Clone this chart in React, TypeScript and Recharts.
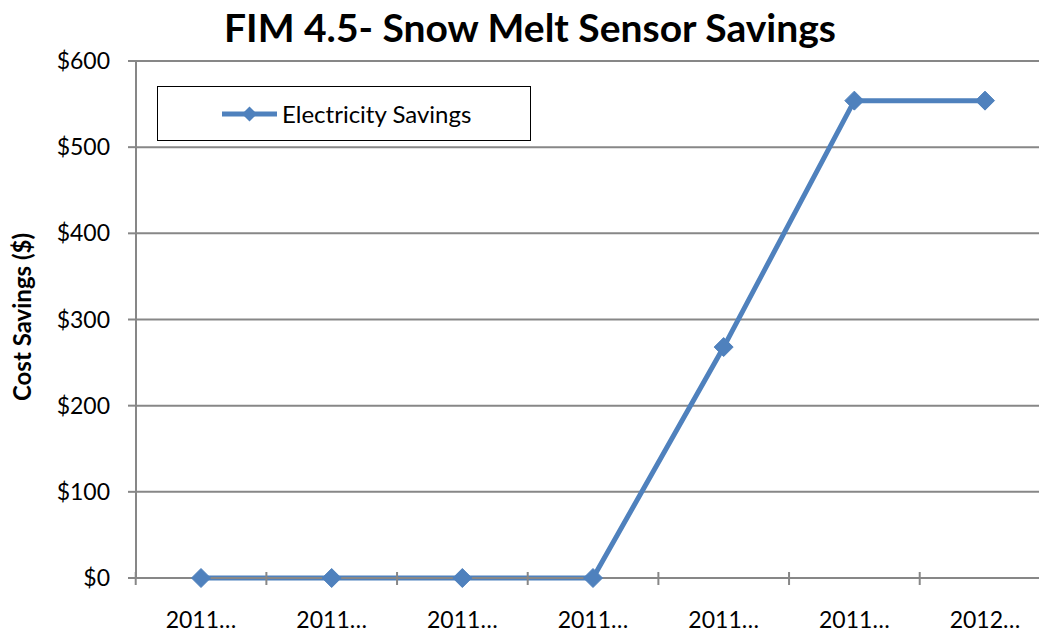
import React from 'react';
import { LineChart, Line, XAxis, YAxis, CartesianGrid } from 'recharts';

const categories = ['2011…', '2011…', '2011…', '2011…', '2011…', '2011…', '2012…'];
const electricitySavings = [0, 0, 0, 0, 268, 554, 554];
const yTicks = [0, 100, 200, 300, 400, 500, 600];
const seriesName = 'Electricity Savings';
const chartTitle = 'FIM 4.5- Snow Melt Sensor Savings';
const yAxisTitle = 'Cost Savings ($)';

const data = categories.map((c, i) => ({ idx: i, label: c, value: electricitySavings[i] }));

const FONT = 'Lato, "Open Sans", sans-serif';
const BLUE = '#4F81BD';
const GRAY = '#878787';

const Diamond = (props: any) => {
  const { cx, cy } = props;
  if (cx == null || cy == null) return null;
  const r = 9.5;
  return (
    <path
      d={`M${cx},${cy - r} L${cx + r},${cy} L${cx},${cy + r} L${cx - r},${cy} Z`}
      fill={BLUE}
      stroke={BLUE}
    />
  );
};

const CatTick = (props: any) => {
  const { x, y, width, visibleTicksCount, index, payload } = props;
  const half = width / visibleTicksCount / 2;
  const axisY = y - 34;
  return (
    <g>
      <line x1={x - half} x2={x - half} y1={axisY - 6} y2={axisY + 7} stroke={GRAY} strokeWidth={2} />
      {index === visibleTicksCount - 1 && (
        <line x1={x + half} x2={x + half} y1={axisY - 6} y2={axisY + 7} stroke={GRAY} strokeWidth={2} />
      )}
      <text x={x} y={y} dy="0.71em" textAnchor="middle" fill="#000" fontSize={23} fontFamily={FONT}>
        {payload.value}
      </text>
    </g>
  );
};

const LegendBox = () => (
  <div
    style={{
      position: 'absolute',
      left: 157,
      top: 86,
      width: 374,
      height: 55,
      border: '1.5px solid #000',
      background: '#fff',
      display: 'flex',
      alignItems: 'center',
      fontFamily: FONT,
      fontSize: 24,
      color: '#000',
      boxSizing: 'border-box',
    }}
  >
    <svg width={124} height={30} style={{ display: 'block' }}>
      <line x1={64} x2={119} y1={15} y2={15} stroke={BLUE} strokeWidth={5} />
      <path d="M91.5,7.5 L99,15 L91.5,22.5 L84,15 Z" fill={BLUE} />
    </svg>
    <span>{seriesName}</span>
  </div>
);

export default function App() {
  return (
    <div
      style={{
        position: 'absolute',
        left: 0,
        top: 0,
        width: 1039,
        height: 632,
        overflow: 'hidden',
        background: '#fff',
      }}
    >
      <div style={{ position: 'absolute', left: 0, top: 0 }}>
        <LineChart width={1060} height={632} data={data} margin={{ top: 61, right: 10, left: 0, bottom: 0 }}>
          <CartesianGrid vertical={false} stroke={GRAY} strokeWidth={2} />
          <XAxis
            dataKey="label"
            height={54}
            padding={{ left: 65, right: 65 }}
            axisLine={{ stroke: GRAY, strokeWidth: 2 }}
            tickLine={false}
            tickSize={0}
            tickMargin={34}
            interval={0}
            tick={<CatTick />}
          />
          <YAxis
            width={136}
            domain={[0, 600]}
            ticks={yTicks}
            interval={0}
            tickFormatter={(v: number) => `$${v}`}
            axisLine={{ stroke: GRAY, strokeWidth: 2 }}
            tickLine={{ stroke: GRAY, strokeWidth: 2 }}
            tickSize={8}
            tickMargin={18}
            tick={{ fill: '#000', fontSize: 23, fontFamily: FONT }}
          />
          <Line
            dataKey="value"
            name={seriesName}
            stroke={BLUE}
            strokeWidth={5}
            dot={<Diamond />}
            activeDot={false}
            isAnimationActive={false}
          />
        </LineChart>
      </div>
      <LegendBox />
      <div
        style={{
          position: 'absolute',
          left: 0,
          width: 1060,
          top: 4,
          textAlign: 'center',
          fontFamily: FONT,
          fontWeight: 700,
          fontSize: 39,
          color: '#000',
          lineHeight: '46px',
        }}
      >
        {chartTitle}
      </div>
      <div
        style={{
          position: 'absolute',
          left: 21,
          top: 317,
          transform: 'translate(-50%, -50%) rotate(-90deg)',
          fontFamily: FONT,
          fontWeight: 700,
          fontSize: 24,
          whiteSpace: 'nowrap',
          color: '#000',
        }}
      >
        {yAxisTitle}
      </div>
    </div>
  );
}
